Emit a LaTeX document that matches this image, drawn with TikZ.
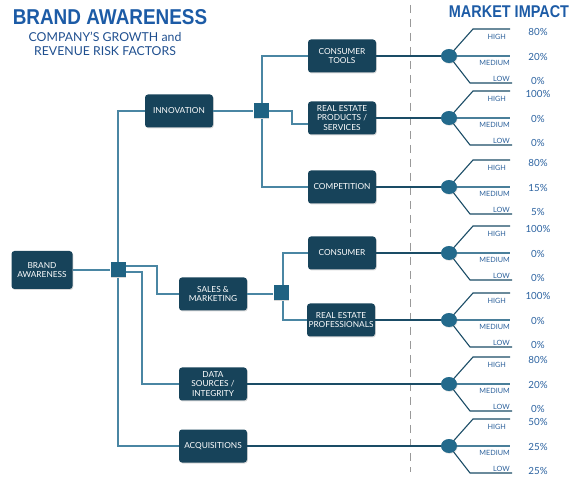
\documentclass[tikz,border=0pt]{standalone}
\usepackage{fontspec}
\setmainfont{Lato}
\newfontfamily\titlefont{Liberation Sans}
\usetikzlibrary{shadows,shapes.geometric}
\definecolor{boxc}{HTML}{17435A}
\definecolor{junc}{HTML}{1F6282}
\definecolor{lnl}{HTML}{4A86A3}
\definecolor{lnd}{HTML}{1A4C66}
\definecolor{lnm}{HTML}{4A7F9A}
\definecolor{circ}{HTML}{236A8C}
\definecolor{ttl}{HTML}{1C5BA6}
\definecolor{sub}{HTML}{1F4F8F}
\definecolor{lab}{HTML}{2A5F9A}
\definecolor{pct}{HTML}{2B62A0}
\tikzset{
  box/.style={fill=boxc, rounded corners=3pt, minimum width=68pt, minimum height=33pt,
    text=white, font=\fontsize{8.3}{9.6}\selectfont, align=center, inner sep=1pt,
    drop shadow={opacity=0.3, shadow xshift=0.8pt, shadow yshift=-1pt}},
  jn/.style={fill=junc, minimum size=15pt, inner sep=0pt,
    drop shadow={opacity=0.3, shadow xshift=0.8pt, shadow yshift=-1pt}},
  cn/.style={draw=lnl, line width=1.5pt},
  rn/.style={draw=lnd, line width=1.1pt},
  mn/.style={draw=lnm, line width=1.2pt},
  dot/.style={ellipse, fill=circ, minimum width=16pt, minimum height=14pt, inner sep=0pt,
    drop shadow={opacity=0.25, shadow xshift=0.6pt, shadow yshift=-0.8pt}},
  lbl/.style={text=lab, font=\fontsize{7.2}{8}\selectfont, inner sep=0pt, anchor=east},
  pc/.style={text=pct, font=\fontsize{9.8}{11}\selectfont, inner sep=0pt},
}
\begin{document}
\begin{tikzpicture}[x=1pt,y=-1pt]
\useasboundingbox (0,0) rectangle (584,478);
% titles
\node[text=ttl, font=\titlefont\bfseries\fontsize{21.5}{23}\selectfont, inner sep=0pt] (title) at (110,17) {\scalebox{0.88}[1]{BRAND AWARENESS}};
\node[text=sub, font=\fontsize{12.3}{13.8}\selectfont, align=center, inner sep=0pt] (subtitle) at (105,44) {COMPANY'S GROWTH and\\REVENUE RISK FACTORS};
\node[text=ttl, font=\titlefont\bfseries\fontsize{17}{19}\selectfont, inner sep=0pt] (mi) at (509,12) {\scalebox{0.85}[1]{MARKET IMPACT}};
% dashed divider
\coordinate (dtop) at (410,5);
\coordinate (dbot) at (410,472);
\draw[draw=gray!80, line width=1pt, dash pattern=on 8pt off 6pt] (dtop) -- (dbot);
% boxes
\node[box, minimum width=61pt, minimum height=38pt] (ba) at (42,270) {BRAND\\AWARENESS};
\node[box] (inno) at (179,111) {INNOVATION};
\node[box] (sales) at (213,294) {SALES \&\\MARKETING};
\node[box] (data) at (213,384) {DATA\\SOURCES /\\INTEGRITY};
\node[box] (acq) at (213,446) {ACQUISITIONS};
\node[box] (ct) at (342,56) {CONSUMER\\TOOLS};
\node[box] (rep) at (342,118) {REAL ESTATE\\PRODUCTS /\\SERVICES};
\node[box] (comp) at (342,187) {COMPETITION};
\node[box] (cons) at (342,253) {CONSUMER};
\node[box] (rpro) at (341,320) {REAL ESTATE\\PROFESSIONALS};
% junctions
\node[jn] (j1) at (118,270) {};
\node[jn] (j2) at (261,111) {};
\node[jn] (j3) at (281,293) {};
% left connectors
\draw[cn] (ba.east) -- (j1.west);
\draw[cn] (j1.north) -- (j1.north |- inno.west) -- (inno.west);
\draw[cn] (j1.south) -- (j1.south |- acq.west) -- (acq.west);
\draw[cn] ([yshift=4pt]j1.east) -- (157,266) -- (157,294) -- (sales.west);
\draw[cn] ([yshift=-2pt]j1.east) -- (142,272) -- (142,384) -- (data.west);
\draw[cn] (inno.east) -- (j2.west);
\draw[cn] ([xshift=1pt]j2.north) -- ([xshift=1pt]j2.north |- ct.west) -- (ct.west);
\draw[cn] ([xshift=1pt]j2.south) -- ([xshift=1pt]j2.south |- comp.west) -- (comp.west);
\draw[cn] (j2.east) -- (292,111) -- (292,124) -- (rep.west |- 0,124);
\draw[cn] (sales.east) -- (sales.east -| j3.west);
\draw[cn] ([xshift=2pt]j3.north) -- ([xshift=2pt]j3.north |- cons.west) -- (cons.west);
\draw[cn] ([xshift=2pt]j3.south) -- ([xshift=2pt]j3.south |- rpro.west) -- (rpro.west);
% right trees
\foreach \src/\y/\h/\m/\l/\i in {ct/56/80\%/20\%/0\%/1, rep/118/100\%/0\%/0\%/2, comp/187/80\%/15\%/5\%/3, cons/253/100\%/0\%/0\%/4, rpro/320/100\%/0\%/0\%/5, data/384/80\%/20\%/0\%/6, acq/446/50\%/25\%/25\%/7}{
  \coordinate (hk\i) at (473,\y-27);
  \coordinate (he\i) at (510,\y-27);
  \coordinate (me\i) at (510,\y);
  \coordinate (lk\i) at (470,\y+27);
  \coordinate (le\i) at (512,\y+27);
  \coordinate (cc\i) at (449,\y);
  \draw[rn] (\src.east) -- (cc\i);
  \draw[rn] (cc\i) -- (hk\i) -- (he\i);
  \draw[mn] (cc\i) -- (me\i);
  \draw[rn] (cc\i) -- (lk\i) -- (le\i);
  \node[dot] (c\i) at (cc\i) {};
  \node[lbl] (hl\i) at (506,\y-19) {HIGH};
  \node[lbl] (ml\i) at (510,\y+7) {MEDIUM};
  \node[lbl] (ll\i) at (510,\y+23) {LOW};
  \node[pc] (hp\i) at (538,\y-24) {\h};
  \node[pc] (mp\i) at (538,\y+1) {\m};
  \node[pc] (lp\i) at (538,\y+25) {\l};
}
\end{tikzpicture}
\end{document}
